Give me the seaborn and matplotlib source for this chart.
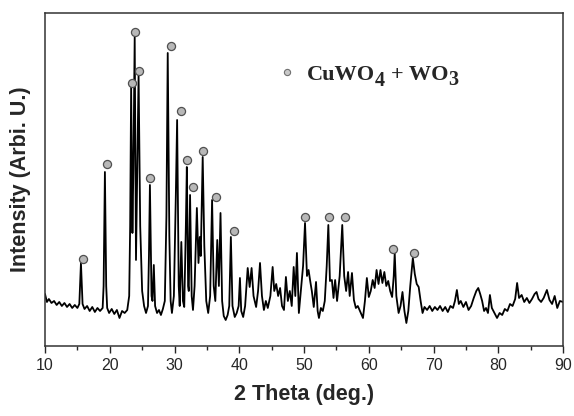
import numpy as np
import pandas as pd
import seaborn as sns
import matplotlib.pyplot as plt

# trace of the XRD pattern (2 theta in deg, intensity in arb. units)
two_theta = [
    10.0, 10.3, 10.6, 11.0, 11.4, 11.8, 12.2, 12.6, 13.0, 13.4, 13.8, 14.2, 14.6, 15.0, 15.3,
    15.55, 15.8, 16.1, 16.5, 16.9, 17.3, 17.7, 18.1, 18.5, 18.9, 19.05, 19.25, 19.45, 19.6,
    19.9, 20.3, 20.7, 21.1, 21.5, 21.9, 22.3, 22.7, 23.0, 23.15, 23.3, 23.5, 23.65, 23.85,
    24.05, 24.25, 24.45, 24.7, 25.0, 25.3, 25.6, 25.9, 26.05, 26.2, 26.45, 26.6, 26.8, 27.0,
    27.3, 27.6, 27.9, 28.2, 28.5, 28.75, 28.95, 29.2, 29.4, 29.6, 29.9, 30.2, 30.4, 30.65,
    30.8, 31.05, 31.3, 31.5, 31.75, 31.9, 32.1, 32.2, 32.4, 32.65, 32.85, 33.1, 33.45, 33.7,
    33.9, 34.05, 34.35, 34.6, 34.9, 35.2, 35.5, 35.8, 36.05, 36.3, 36.6, 36.85, 37.1, 37.35,
    37.6, 37.9, 38.2, 38.45, 38.7, 38.95, 39.3, 39.6, 39.9, 40.1, 40.3, 40.6, 40.9, 41.3,
    41.6, 41.9, 42.2, 42.6, 42.9, 43.2, 43.5, 43.8, 44.1, 44.4, 44.8, 45.15, 45.4, 45.7,
    46.0, 46.3, 46.6, 46.9, 47.2, 47.5, 47.8, 48.1, 48.4, 48.65, 48.9, 49.2, 49.5, 49.85,
    50.15, 50.45, 50.7, 50.95, 51.2, 51.5, 51.85, 52.1, 52.3, 52.6, 52.9, 53.2, 53.5, 53.75,
    54.0, 54.3, 54.55, 54.8, 55.1, 55.5, 55.9, 56.2, 56.5, 56.8, 57.05, 57.4, 57.7, 58.0,
    58.3, 58.7, 59.1, 59.4, 59.7, 60.0, 60.3, 60.6, 60.9, 61.2, 61.5, 61.8, 62.1, 62.4,
    62.7, 63.0, 63.3, 63.6, 63.85, 64.0, 64.25, 64.6, 64.9, 65.2, 65.5, 65.8, 66.1, 66.4,
    66.8, 67.1, 67.4, 67.7, 68.0, 68.3, 68.6, 69.0, 69.4, 69.8, 70.2, 70.6, 71.0, 71.4,
    71.8, 72.2, 72.6, 73.0, 73.3, 73.6, 73.9, 74.2, 74.6, 75.0, 75.4, 75.8, 76.2, 76.6,
    76.9, 77.2, 77.5, 77.8, 78.1, 78.4, 78.7, 79.0, 79.4, 79.8, 80.2, 80.6, 81.0, 81.4,
    81.8, 82.2, 82.6, 82.9, 83.2, 83.6, 84.0, 84.4, 84.8, 85.2, 85.6, 85.9, 86.2, 86.6,
    87.0, 87.5, 87.9, 88.3, 88.7, 89.1, 89.5, 90.0,
]
intensity = [
    52, 44, 47, 43, 45, 41, 44, 40, 43, 39, 42, 38, 41, 38, 42,
    83, 42, 37, 40, 35, 39, 34, 38, 35, 38, 60, 174, 60, 38,
    33, 37, 32, 36, 28, 35, 33, 36, 50, 120, 259, 113, 180, 309,
    86, 180, 271, 120, 55, 40, 33, 40, 90, 161, 50, 45, 81, 40,
    33, 36, 31, 37, 45, 130, 293, 110, 45, 33, 50, 150, 226, 60,
    40, 104, 45, 39, 120, 179, 60, 55, 151, 50, 36, 60, 138, 83,
    109, 90, 189, 100, 45, 33, 50, 146, 60, 45, 106, 60, 133, 45,
    30, 26, 31, 40, 109, 40, 29, 33, 40, 68, 35, 29, 40, 78,
    59, 78, 50, 39, 55, 83, 50, 36, 45, 38, 50, 79, 55, 62,
    50, 58, 40, 36, 69, 45, 55, 40, 79, 50, 93, 33, 55, 80,
    123, 70, 76, 65, 55, 39, 64, 35, 28, 38, 35, 45, 80, 121,
    65, 66, 48, 66, 45, 70, 121, 70, 55, 74, 50, 73, 46, 38,
    40, 34, 28, 45, 68, 49, 55, 66, 58, 76, 62, 76, 63, 74,
    60, 65, 55, 49, 70, 93, 50, 33, 40, 54, 35, 23, 35, 60,
    88, 72, 62, 59, 45, 33, 39, 36, 40, 35, 39, 36, 40, 35,
    39, 34, 40, 38, 45, 56, 42, 45, 39, 44, 36, 40, 48, 55,
    58, 52, 45, 35, 38, 33, 51, 38, 33, 28, 33, 31, 37, 35,
    42, 40, 47, 63, 48, 51, 44, 48, 43, 47, 52, 54, 47, 44,
    48, 56, 46, 42, 50, 38, 45, 44,
]

# peak markers (CuWO4 + WO3)
marker_theta = [15.8, 19.5, 23.5, 23.9, 24.5, 26.2, 29.4, 31.0, 31.9, 32.8, 34.35,
                36.4, 39.2, 50.15, 53.9, 56.3, 63.8, 67.0]
marker_int = [87, 182, 263, 314, 275, 168, 300, 235, 186, 159, 195,
              149, 115, 129, 129, 129, 97, 93]

df = pd.DataFrame({'2theta': two_theta, 'I': intensity})
df_mk = pd.DataFrame({'2theta': marker_theta, 'I': marker_int})

sns.set_style('ticks')
plt.rcParams['font.family'] = ['Liberation Sans', 'DejaVu Sans']

fig = plt.figure(figsize=(5.74, 4.16), dpi=100)
ax = fig.add_axes([0.0784, 0.1683, 0.9026, 0.8005])

sns.lineplot(data=df, x='2theta', y='I', sort=False, estimator=None,
             color='black', linewidth=1.3, ax=ax)
sns.scatterplot(data=df_mk, x='2theta', y='I', s=34, color='#b8b8b8',
                edgecolor='#505050', linewidth=0.9, zorder=5, ax=ax)

# legend-like annotation, subscripts written as separate lowered pieces
ax.scatter([47.4], [274], s=20, color='#c8c8c8', edgecolor='#707070', linewidth=0.8, zorder=5)
serif = dict(fontweight='bold', family='Liberation Serif', va='bottom', ha='left')
t1 = ax.text(50.4, 261, 'CuWO', fontsize=16, **serif)
t2 = ax.annotate('4', xy=(1, 0), xycoords=t1, xytext=(0, -4), textcoords='offset points',
                 fontsize=14.5, **serif)
t3 = ax.annotate('+ WO', xy=(1, 0), xycoords=t2, xytext=(4.5, 4.3), textcoords='offset points',
                 fontsize=16, **serif)
t4 = ax.annotate('3', xy=(1, 0), xycoords=t3, xytext=(0, -4), textcoords='offset points',
                 fontsize=14.5, **serif)

ax.set_xlim(10, 90)
ax.set_ylim(0, 333)
ax.set_xticks(np.arange(10, 91, 10))
ax.set_xticks(np.arange(15, 90, 10), minor=True)
ax.set_yticks([])
ax.tick_params(axis='x', which='major', length=5, width=1, labelsize=11.5, direction='out')
ax.tick_params(axis='x', which='minor', length=3, width=1, direction='out')

for side in ['top', 'right', 'bottom', 'left']:
    ax.spines[side].set_visible(True)
    ax.spines[side].set_linewidth(1.1)
    ax.spines[side].set_color('#333333')

ax.set_xlabel('2 Theta (deg.)', fontsize=15.5, fontweight='bold', labelpad=8)
ax.set_ylabel('Intensity (Arbi. U.)', fontsize=15.5, fontweight='bold', labelpad=10)

plt.savefig('out.png', dpi=100)
